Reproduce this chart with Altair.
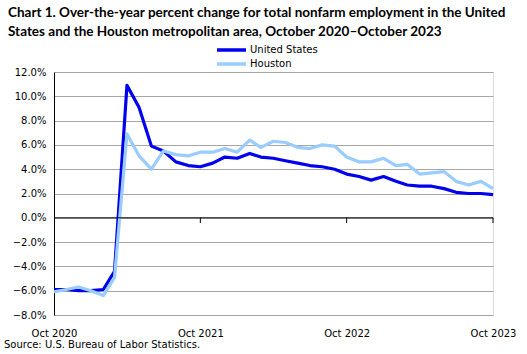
import altair as alt
import pandas as pd

months = pd.date_range("2020-10-01", "2023-10-01", freq="MS").strftime("%Y-%m-%d").tolist()

us = [-5.9, -5.9, -6.0, -6.0, -5.9, -4.4, 10.9, 9.1, 5.9, 5.5, 4.6, 4.3,
      4.2, 4.5, 5.0, 4.9, 5.3, 5.0, 4.9, 4.7, 4.5, 4.3, 4.2, 4.0,
      3.6, 3.4, 3.1, 3.4, 3.0, 2.7, 2.6, 2.6, 2.4, 2.1, 2.0, 2.0, 1.9]
houston = [-6.1, -5.9, -5.7, -6.0, -6.4, -4.9, 6.9, 5.1, 4.0, 5.5, 5.2, 5.1,
           5.4, 5.4, 5.7, 5.4, 6.4, 5.8, 6.3, 6.2, 5.8, 5.7, 6.0, 5.9,
           5.0, 4.6, 4.6, 4.9, 4.3, 4.4, 3.6, 3.7, 3.8, 3.0, 2.7, 3.0, 2.4]
series_names = ["United States", "Houston"]
series_colors = ["#0000EE", "#99CCFF"]
tick_dates = ["2020-10-01", "2021-10-01", "2022-10-01", "2023-10-01"]
y_ticks = [-8, -6, -4, -2, 0, 2, 4, 6, 8, 10, 12]

rows = []
for m, a, b in zip(months, us, houston):
    rows.append({"date": m, "series": series_names[0], "value": a})
    rows.append({"date": m, "series": series_names[1], "value": b})
df = pd.DataFrame(rows)

W, H = 439, 243
FONT = "DejaVu Sans"

xscale = alt.Scale(type="utc", domain=[months[0] + "T00:00:00Z", months[-1] + "T00:00:00Z"])
yscale = alt.Scale(domain=[-8, 12], nice=False)
xaxis = alt.Axis(values=[alt.DateTime(year=int(d[:4]), month=int(d[5:7]), date=1, utc=True) for d in tick_dates],
                 labelExpr="utcFormat(datum.value, '%b %Y')", title=None, domain=False, ticks=False, grid=False,
                 labelFont=FONT, labelFontSize=10, labelColor="#000000", labelPadding=13,
                 labelFlush=False, labelOverlap=False)
yaxis = alt.Axis(values=y_ticks, labelExpr="format(datum.value, '.1f') + '%'",
                 title=None, domain=True, domainColor="#000000", domainWidth=1, ticks=False,
                 grid=True, gridColor="#a6a6a6", gridWidth=1, labelOverlap=False,
                 labelFont=FONT, labelFontSize=10, labelColor="#000000", labelPadding=8)

lines = alt.Chart(df).mark_line(strokeWidth=3.2, strokeJoin="round").encode(
    x=alt.X("date:T", scale=xscale, axis=xaxis),
    y=alt.Y("value:Q", scale=yscale, axis=yaxis),
    color=alt.Color("series:N", sort=series_names,
                    scale=alt.Scale(domain=series_names, range=series_colors),
                    legend=alt.Legend(title=None, orient="none", legendX=161, legendY=-29,
                                      symbolType="stroke", symbolStrokeWidth=3.5, symbolSize=841,
                                      clipHeight=14, rowPadding=0,
                                      labelFont=FONT, labelFontSize=10, labelColor="#000000",
                                      labelOffset=2)),
    order=alt.Order("series_order:Q"),
).transform_calculate(series_order="datum.series == 'United States' ? 1 : 0")

zero = pd.DataFrame({"v": [0]})
zero_rule = alt.Chart(zero).mark_rule(color="#000000", strokeWidth=1).encode(
    y=alt.Y("v:Q", scale=yscale, axis=yaxis))

ticks_df = pd.DataFrame({"date": tick_dates[1:], "v": [0, 0, 0]})
tick_marks = alt.Chart(ticks_df).mark_rule(color="#000000", strokeWidth=1).encode(
    x=alt.X("date:T", scale=xscale, axis=xaxis),
    y=alt.Y("v:Q", scale=yscale, axis=yaxis), y2=alt.value(151))

source = alt.Chart(zero).mark_text(align="left", baseline="middle", font=FONT, fontSize=10,
                                   color="#000000").encode(
    x=alt.value(-50), y=alt.value(H + 30), text=alt.value("Source: U.S. Bureau of Labor Statistics."))

chart = alt.layer(lines, zero_rule, tick_marks, source).properties(
    width=W, height=H,
    autosize=alt.AutoSizeParams(type="none"),
    padding={"left": 54, "top": 72, "right": 34, "bottom": 39},
    title=alt.TitleParams(
        text=["Chart 1. Over-the-year percent change for total nonfarm employment in the United",
              "States and the Houston metropolitan area, October 2020\u2013October  2023"],
        anchor="start", frame="group", dx=-46, offset=5, font="Lato", fontSize=13.5,
        fontWeight="bold", color="#000000", lineHeight=19),
).configure_view(stroke="#a6a6a6", strokeWidth=1).configure(background="#ffffff")

chart.save("out.html", embed_options={"renderer": "svg", "actions": False})
